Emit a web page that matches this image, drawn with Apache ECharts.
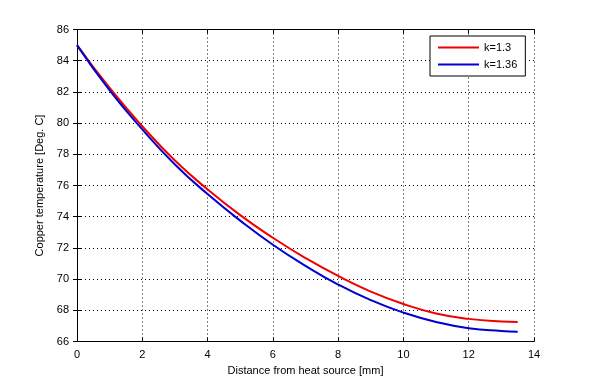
<!DOCTYPE html>
<html><head><meta charset="utf-8">
<script src="https://cdn.jsdelivr.net/npm/echarts@6/dist/echarts.min.js"></script>
<style>html,body{margin:0;padding:0;background:#fff}#c{width:590px;height:383px}</style>
</head><body><div id="c"></div>
<script>
var distance = [0, 1, 2, 3, 4, 5, 6, 7, 8, 9, 10, 11, 12, 13, 13.5];
var tempK130 = [85, 82.25, 79.8, 77.6, 75.75, 74.1, 72.65, 71.35, 70.2, 69.2, 68.4, 67.8, 67.45, 67.28, 67.25];
var tempK136 = [85, 82.1, 79.6, 77.35, 75.45, 73.75, 72.2, 70.85, 69.65, 68.65, 67.85, 67.25, 66.85, 66.67, 66.63];
var seriesNames = ['k=1.3', 'k=1.36'];
var xTitle = 'Distance from heat source [mm]';
var yTitle = 'Copper temperature [Deg. C]';

function pairs(ys){ return distance.map(function(x,i){ return [x, ys[i]]; }); }
var font = 'Liberation Sans, Arial, sans-serif';
var chart = echarts.init(document.getElementById('c'), null, {renderer:'canvas'});
var axisCommon = {
  axisLine:{show:true, onZero:false, lineStyle:{color:'#000', width:1}},
  axisTick:{show:true, inside:true, length:4, lineStyle:{color:'#000'}},
  axisLabel:{color:'#000', fontFamily:font, fontSize:11},
};
chart.setOption({
  animation:false,
  backgroundColor:'#fff',
  grid:{left:77, right:56, top:29.5, bottom:41.5, containLabel:false},
  legend:{
    orient:'vertical', left:430, top:36, width:98,
    backgroundColor:'#fff', borderColor:'#000', borderWidth:1,
    padding:[6, 8, 6, 8], itemGap:6, itemWidth:41, itemHeight:2, icon:'rect',
    textStyle:{color:'#000', fontFamily:font, fontSize:11, padding:[0,6,0,0]},
    data:seriesNames
  },
  xAxis:[
    Object.assign({type:'value', min:0, max:14, interval:2, position:'bottom',
      name:xTitle, nameLocation:'middle', nameGap:21,
      nameTextStyle:{color:'#000', fontFamily:font, fontSize:11},
      splitLine:{show:true, lineStyle:{color:'#000', type:[1,3], width:1}}}, axisCommon),
    {type:'value', min:0, max:14, interval:2, position:'top',
      axisLine:{show:true, lineStyle:{color:'#000'}},
      axisTick:{show:true, inside:true, length:4, lineStyle:{color:'#000'}},
      axisLabel:{show:false}, splitLine:{show:false}}
  ],
  yAxis:[
    Object.assign({type:'value', min:66, max:86, interval:2, position:'left',
      name:yTitle, nameLocation:'middle', nameGap:20,
      nameTextStyle:{color:'#000', fontFamily:font, fontSize:11},
      splitLine:{show:true, lineStyle:{color:'#000', type:[1,3], width:1}}}, axisCommon),
    {type:'value', min:66, max:86, interval:2, position:'right',
      axisLine:{show:true, lineStyle:{color:'#000'}},
      axisTick:{show:true, inside:true, length:4, lineStyle:{color:'#000'}},
      axisLabel:{show:false}, splitLine:{show:false}}
  ],
  series:[
    {name:seriesNames[0], type:'line', data:pairs(tempK130), smooth:0.5, showSymbol:false,
      itemStyle:{color:'#f00000'}, lineStyle:{color:'#f00000', width:2}},
    {name:seriesNames[1], type:'line', data:pairs(tempK136), smooth:0.5, showSymbol:false,
      itemStyle:{color:'#0000d0'}, lineStyle:{color:'#0000d0', width:2}}
  ]
});
</script></body></html>
